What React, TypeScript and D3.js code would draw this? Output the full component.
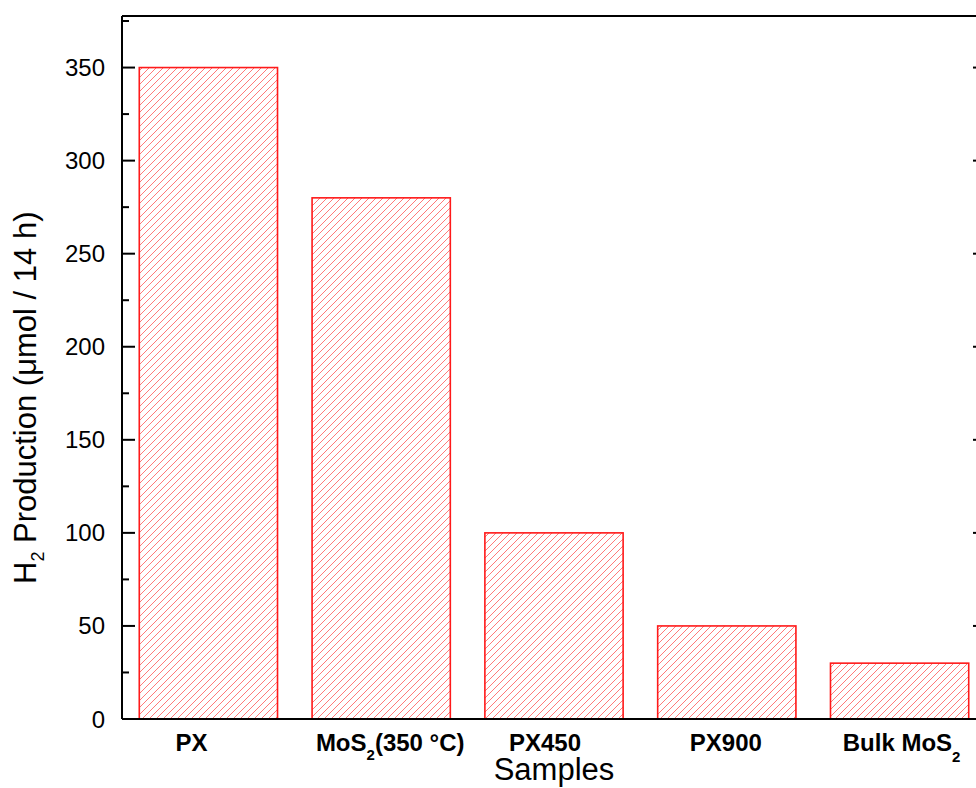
import React from "react";
import * as d3 from "d3";

const categories = ["PX", "MoS2(350 °C)", "PX450", "PX900", "Bulk MoS2"];
const values = [350, 280, 100, 50, 30];
const yMajorTicks = [0, 50, 100, 150, 200, 250, 300, 350];
const yMinorTicks = [25, 75, 125, 175, 225, 275, 325, 375];
const labelOffsets = [-17, 9, -9, -1, 2];

const W = 976;
const H = 788;
const left = 122;
const right = 986;
const top = 16;
const bottom = 719;

function CatLabel({ name, x, y }: { name: string; x: number; y: number }) {
  const m = name.match(/^(.*MoS)2(.*)$/);
  if (m) {
    return (
      <text x={x} y={y} textAnchor="middle" fontFamily="Liberation Sans, Arial, sans-serif" fontWeight="bold" fontSize={24} fill="#000">
        <tspan>{m[1]}</tspan>
        <tspan fontSize={15} dy={m[2] ? 9 : 11}>2</tspan>
        {m[2] ? <tspan dy={-9}>{m[2]}</tspan> : null}
      </text>
    );
  }
  return (
    <text x={x} y={y} textAnchor="middle" fontFamily="Liberation Sans, Arial, sans-serif" fontWeight="bold" fontSize={24} fill="#000">
      {name}
    </text>
  );
}

export default function App() {
  const x = d3
    .scaleBand<string>()
    .domain(categories)
    .range([left, right])
    .paddingInner(0.2)
    .paddingOuter(0.1);
  const y = d3.scaleLinear().domain([0, 377.7]).range([bottom, top]);

  return (
    <svg width={W} height={H} style={{ position: "absolute", left: 0, top: 0, background: "#fff" }}>
      <defs>
        <pattern id="hatch" patternUnits="userSpaceOnUse" width={7} height={7}>
          <path d="M-1,8 L8,-1 M-2,2 L2,-2 M5,9 L9,5" stroke="#ff6b6b" strokeWidth={0.9} />
        </pattern>
      </defs>
      <rect x={0} y={0} width={W} height={H} fill="#fff" />
      {categories.map((c, i) => (
        <rect
          key={c}
          x={x(c)!}
          y={y(values[i])}
          width={x.bandwidth()}
          height={y(0) - y(values[i])}
          fill="url(#hatch)"
          stroke="#ff1a1a"
          strokeWidth={1.6}
        />
      ))}
      <line x1={left} x2={right} y1={top} y2={top} stroke="#000" strokeWidth={2} />
      <line x1={left} x2={right} y1={bottom} y2={bottom} stroke="#000" strokeWidth={2} />
      <line x1={left} x2={left} y1={top} y2={bottom} stroke="#000" strokeWidth={2} />
      <line x1={right} x2={right} y1={top} y2={bottom} stroke="#000" strokeWidth={2} />
      {yMajorTicks.map((t) => (
        <g key={"M" + t}>
          <line x1={left} x2={left + 13} y1={y(t)} y2={y(t)} stroke="#000" strokeWidth={2} />
          <line x1={right} x2={right - 13} y1={y(t)} y2={y(t)} stroke="#000" strokeWidth={2} />
          <text x={105} y={y(t) + 8.5} textAnchor="end" fontFamily="Liberation Sans, Arial, sans-serif" fontSize={24} fill="#000">
            {t}
          </text>
        </g>
      ))}
      {yMinorTicks.map((t) => (
        <g key={"m" + t}>
          <line x1={left} x2={left + 7} y1={y(t)} y2={y(t)} stroke="#000" strokeWidth={2} />
          <line x1={right} x2={right - 7} y1={y(t)} y2={y(t)} stroke="#000" strokeWidth={2} />
        </g>
      ))}
      {categories.map((c, i) => (
        <CatLabel key={"l" + c} name={c} x={x(c)! + x.bandwidth() / 2 + labelOffsets[i]} y={751} />
      ))}
      <text x={(left + right) / 2} y={780} textAnchor="middle" fontFamily="Liberation Sans, Arial, sans-serif" fontSize={31} fill="#000">
        Samples
      </text>
      <text
        transform={`translate(36,584) rotate(-90)`}
        textAnchor="start"
        fontFamily="Liberation Sans, Arial, sans-serif"
        fontSize={31}
        fill="#000"
      >
        <tspan>H</tspan>
        <tspan fontSize={18} dy={8}>2</tspan>
        <tspan dy={-8}> Production (μmol / 14 h)</tspan>
      </text>
    </svg>
  );
}
